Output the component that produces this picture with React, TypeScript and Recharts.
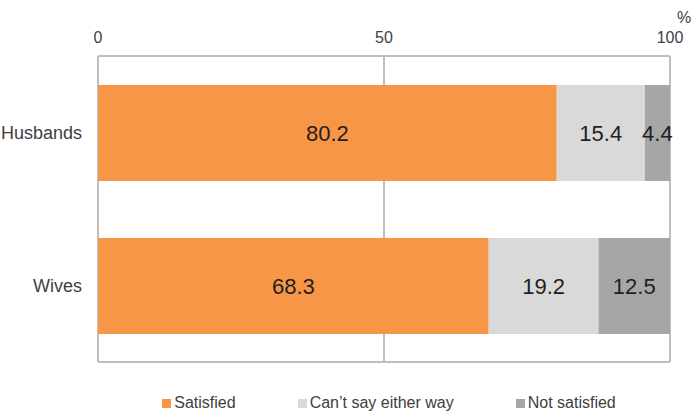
import React from "react"
import { BarChart, Bar, XAxis, YAxis, CartesianGrid, Legend, LabelList } from "recharts"

const groups = ["Husbands", "Wives"]
const satisfied = [80.2, 68.3]
const neutral = [15.4, 19.2]
const notSatisfied = [4.4, 12.5]
const xTicks = [0, 50, 100]

const SERIES = [
  { key: "satisfied", name: "Satisfied", color: "#F79646" },
  { key: "neutral", name: "Can\u2019t say either way", color: "#D9D9D9" },
  { key: "notSatisfied", name: "Not satisfied", color: "#A6A6A6" },
]

const data = groups.map((g, i) => ({
  group: g,
  satisfied: satisfied[i],
  neutral: neutral[i],
  notSatisfied: notSatisfied[i],
}))

const FONT = "'Liberation Sans', Arial, sans-serif"

// legend spacing tuned to the reference
const legendGaps = [62, 62, 0]

function renderLegend() {
  return (
    <div style={{ display: "flex", justifyContent: "center", fontFamily: FONT, fontSize: 16, color: "#404040", height: 20, alignItems: "center", paddingLeft: 80 }}>
      {SERIES.map((s, i) => (
        <div key={s.key} style={{ display: "flex", alignItems: "center", marginRight: legendGaps[i] }}>
          <span style={{ display: "inline-block", width: 9, height: 9, background: s.color, marginRight: 3 }} />
          <span>{s.name}</span>
        </div>
      ))}
    </div>
  )
}

export default function App() {
  return (
    <div style={{ position: "absolute", left: 0, top: 0, width: 698, height: 413, background: "#fff" }}>
      <BarChart
        width={698}
        height={413}
        data={data}
        layout="vertical"
        margin={{ top: 26, right: 28, bottom: 31, left: 0 }}
        barSize={96}
      >
        <CartesianGrid
          stroke="#BFBFBF"
          strokeWidth={2}
          horizontalPoints={[56, 362]}
        />
        <XAxis
          type="number"
          orientation="top"
          domain={[0, 100]}
          ticks={xTicks}
          height={30}
          axisLine={false}
          tickLine={false}
          tickSize={6}
          tickMargin={7}
          tick={{ fill: "#404040", fontSize: 16, fontFamily: FONT }}
        />
        <YAxis
          type="category"
          dataKey="group"
          width={98}
          axisLine={false}
          tickLine={false}
          tickSize={6}
          tickMargin={10}
          tick={{ fill: "#404040", fontSize: 18, fontFamily: FONT }}
        />
        <Legend content={renderLegend} verticalAlign="bottom" wrapperStyle={{ bottom: 0, left: 0, width: 698 }} />
        {SERIES.map((s) => (
          <Bar key={s.key} dataKey={s.key} name={s.name} stackId="a" fill={s.color} isAnimationActive={false}>
            <LabelList
              dataKey={s.key}
              position="center"
              fill="#1f1f1f"
              fontSize={22}
              fontFamily={FONT}
              formatter={(v: number) => v.toFixed(1)}
            />
          </Bar>
        ))}
      </BarChart>
      <div style={{ position: "absolute", left: 677, top: 9, fontFamily: FONT, fontSize: 16, color: "#404040" }}>%</div>
    </div>
  )
}
